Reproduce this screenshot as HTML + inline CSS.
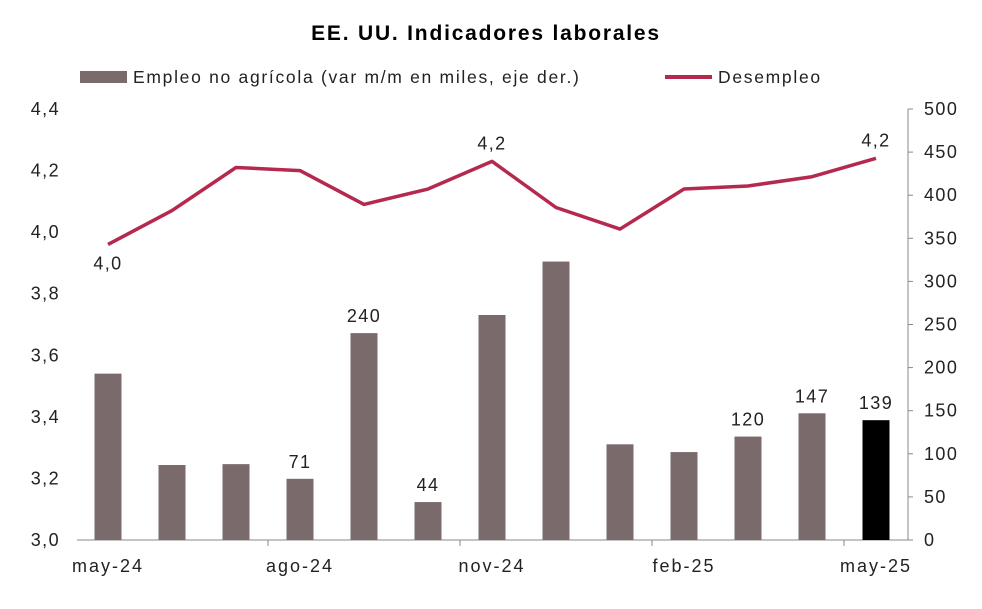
<!DOCTYPE html>
<html><head><meta charset="utf-8">
<style>
html,body{margin:0;padding:0;background:#fff;}
svg{display:block;font-family:"Liberation Sans",sans-serif;}
svg text{letter-spacing:1.4px;}
</style></head>
<body>
<svg id="chart" width="982" height="609" viewBox="0 0 982 609">
<text x="486" y="40" text-anchor="middle" font-size="21" font-weight="bold" fill="#000" style="letter-spacing:1.8px">EE. UU. Indicadores laborales</text>
<g>
<rect x="80" y="71" width="47" height="12" fill="#7a6a6c"/>
<text x="133" y="83" font-size="17.5" fill="#222" style="letter-spacing:1.7px">Empleo no agrícola (var m/m en miles, eje der.)</text>
<line x1="665" y1="77" x2="712" y2="77" stroke="#b5294e" stroke-width="4"/>
<text x="718" y="83" font-size="17.5" fill="#222" style="letter-spacing:1.7px">Desempleo</text>
</g>
<g id="axes"></g>
<g id="bars"></g>
<g id="line"></g>
<g id="labels"></g>
</svg>
<script>
const categories=["may-24","jun-24","jul-24","ago-24","sep-24","oct-24","nov-24","dic-24","ene-25","feb-25","mar-25","abr-25","may-25"];
const payrolls=[193,87,88,71,240,44,261,323,111,102,120,147,139];
const unemployment=[3.96,4.07,4.21,4.20,4.09,4.14,4.23,4.08,4.01,4.14,4.15,4.18,4.24];
const leftTicks=["3,0","3,2","3,4","3,6","3,8","4,0","4,2","4,4"];
const rightTicks=[0,50,100,150,200,250,300,350,400,450,500];
const xLabelIdx=[0,3,6,9,12];
const barLabelIdx=[3,5,4,10,11,12];
const lineLabelIdx=[0,6,12];

const NS="http://www.w3.org/2000/svg";
const X0=77,X1=908,Y0=540,Y1=109;
const step=64;
function xc(i){return 108+i*step;}
function yL(v){return Y0-(v-3.0)/1.4*(Y0-Y1);}
function yR(v){return Y0-v/500*(Y0-Y1);}
function mk(tag,attrs,parent,text){const e=document.createElementNS(NS,tag);for(const k in attrs)e.setAttribute(k,attrs[k]);if(text!==undefined)e.textContent=text;parent.appendChild(e);return e;}
const axes=document.getElementById('axes'),bars=document.getElementById('bars'),line=document.getElementById('line'),labels=document.getElementById('labels');

let e=mk('line',{x1:X0,y1:Y0,x2:X1,y2:Y0,stroke:'#888','stroke-width':1},axes);


e=mk('line',{x1:X1,y1:Y1,x2:X1,y2:Y0,stroke:'#888','stroke-width':1},axes);


leftTicks.forEach((t,i)=>{const v=3.0+i*0.2;
 const el=mk('text',{x:60,y:yL(v)+6,'text-anchor':'end','font-size':18,fill:'#222'},axes,t);
 
 });
rightTicks.forEach(v=>{
 const tk=mk('line',{x1:X1,y1:yR(v),x2:X1+5,y2:yR(v),stroke:'#888'},axes);
 
 
 const el=mk('text',{x:924,y:yR(v)+6,'font-size':18,fill:'#222'},axes,String(v));
 
 });
xLabelIdx.forEach(i=>{
 const el=mk('text',{x:xc(i),y:572,'text-anchor':'middle','font-size':18,fill:'#222',style:'letter-spacing:2px'},axes,categories[i]);
 
 
 if(i>0){const tk=mk('line',{x1:xc(i)-32,y1:Y0,x2:xc(i)-32,y2:Y0+6,stroke:'#888'},axes);
 
 }});

payrolls.forEach((v,i)=>{
 const b=mk('rect',{x:xc(i)-13.5,y:yR(v),width:27,height:Y0-yR(v),fill:i===payrolls.length-1?'#000':'#7a6a6c'},bars);
 
 });
barLabelIdx.forEach(i=>{
 const t=mk('text',{x:xc(i),y:yR(payrolls[i])-11,'text-anchor':'middle','font-size':18,fill:'#222'},labels,String(payrolls[i]));
 
 });

const pts=unemployment.map((v,i)=>xc(i)+','+yL(v)).join(' ');
const pl=mk('polyline',{points:pts,fill:'none',stroke:'#b5294e','stroke-width':3.5,'stroke-linejoin':'round'},line);


lineLabelIdx.forEach(i=>{
 const below=i===0;
 const t=mk('text',{x:xc(i),y:below?yL(unemployment[i])+25:yL(unemployment[i])-12,'text-anchor':'middle','font-size':18,fill:'#222'},labels,unemployment[i].toFixed(1).replace('.',','));
 
 });
</script>
</body></html>
